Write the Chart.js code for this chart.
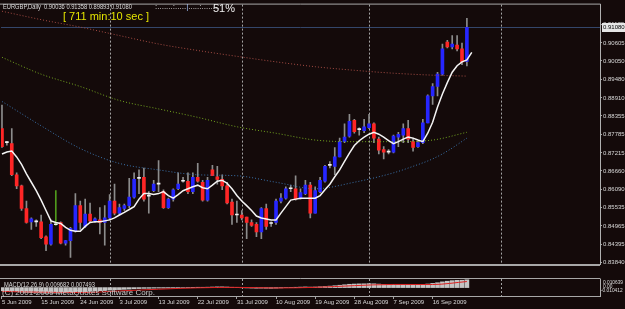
<!DOCTYPE html>
<html>
<head>
<meta charset="utf-8">
<script src="https://cdn.jsdelivr.net/npm/chart.js@4.4.1/dist/chart.umd.min.js"></script>
<style>
    body { margin:0; background:#140a0a; width:625px; height:309px; overflow:hidden; position:relative; font-family:'Liberation Sans',Arial,sans-serif; }
    canvas { position:absolute; left:0; }
    #main_chart { top:0; }
    #macd_chart { top:278px; }
    .txt { position:absolute; white-space:nowrap; color:#dcdcdc; font-size:7px; line-height:1; transform-origin:0 0; }
    .narrow { transform:scaleX(0.82); }
</style>
</head>
<body>
<canvas id="main_chart" width="625" height="279"></canvas>
<canvas id="macd_chart" width="625" height="31"></canvas>

<div class="txt narrow" style="left:3px;top:3px">EURGBP,Daily&nbsp; 0.90036 0.91358 0.89893 0.91080</div>
<div class="txt" style="left:63px;top:11px;font-size:11px;color:#e4e400">[ 711 min:10 sec ]</div>
<div class="txt" style="left:155px;top:3px;font-size:8px;color:#e0e0e0">:.......:.....<span style="color:#a8c8ff">|</span>.....:.......:</div>
<div class="txt" style="left:213px;top:3px;font-size:11px;color:#f0f0f0">51%</div>
<div class="txt narrow" style="left:4px;top:281px">MACD(12,26,9) 0.009682 0.007493</div>
<div class="txt" style="left:2px;top:289px;font-size:8px;color:#c8c8c8">(C) 2001-2009 MetaQuotes Software Corp.</div>
<div class="txt" style="left:603px;top:279px;font-size:6px;transform:scaleX(0.8)">0.010639</div>
<div class="txt" style="left:603px;top:283px;font-size:6px;transform:scaleX(0.8)">0.00</div>
<div class="txt" style="left:601px;top:287px;font-size:6px;transform:scaleX(0.8)">-0.010412</div>

<script>
// EURGBP daily candles, bar 0 = 5 Jun 2009 (Sunday bars included)
const opens = [
    0.8796,0.8753,0.8750,0.8654,0.8620,0.8550,0.8509,0.8509,0.8509,0.8463,
    0.8440,0.8500,0.8507,0.8443,0.8451,0.8480,0.8559,0.8495,0.8533,0.8512,
    0.8515,0.8507,0.8521,0.8573,0.8536,0.8550,0.8559,0.8585,0.8643,0.8646,
    0.8588,0.8605,0.8625,0.8602,0.8553,0.8579,0.8611,0.8634,0.8634,0.8602,
    0.8646,0.8631,0.8576,0.8669,0.8648,0.8640,0.8620,0.8570,0.8530,0.8530,
    0.8524,0.8507,0.8501,0.8478,0.8550,0.8504,0.8507,0.8573,0.8582,0.8611,
    0.8611,0.8582,0.8596,0.8622,0.8536,0.8602,0.8634,0.8683,0.8680,0.8709,
    0.8756,0.8773,0.8822,0.8793,0.8790,0.8799,0.8811,0.8764,0.8732,0.8724,
    0.8724,0.8770,0.8776,0.8796,0.8756,0.8741,0.8753,0.8814,0.8897,0.8926,
    0.8964,0.9063,0.9048,0.9054,0.9042,0.90036
]
const highs = [
    0.8869,0.8757,0.8796,0.8660,0.8622,0.8573,0.8521,0.8515,0.8530,0.8466,
    0.8515,0.8605,0.8509,0.8452,0.8492,0.8596,0.8573,0.8579,0.8567,0.8521,
    0.8553,0.8559,0.8593,0.8625,0.8564,0.8564,0.8643,0.8660,0.8669,0.8675,
    0.8602,0.8637,0.8698,0.8608,0.8582,0.8611,0.8660,0.8646,0.8660,0.8660,
    0.8689,0.8637,0.8646,0.8683,0.8680,0.8654,0.8631,0.8579,0.8573,0.8544,
    0.8524,0.8515,0.8507,0.8553,0.8564,0.8509,0.8579,0.8596,0.8617,0.8622,
    0.8651,0.8611,0.8637,0.8631,0.8617,0.8646,0.8683,0.8695,0.8738,0.8767,
    0.8811,0.8840,0.8825,0.8799,0.8825,0.8840,0.8814,0.8770,0.8741,0.8732,
    0.8776,0.8785,0.8811,0.8822,0.8767,0.8758,0.8825,0.8900,0.8935,0.8970,
    0.9057,0.9068,0.9083,0.9083,0.9060,0.91358
]
const lows = [
    0.8738,0.8745,0.8651,0.8611,0.8544,0.8505,0.8486,0.8495,0.8457,0.8420,
    0.8437,0.8498,0.8441,0.8437,0.8399,0.8477,0.8486,0.8492,0.8507,0.8507,
    0.8472,0.8437,0.8515,0.8530,0.8530,0.8544,0.8553,0.8582,0.8596,0.8573,
    0.8536,0.8602,0.8602,0.8550,0.8550,0.8573,0.8608,0.8631,0.8596,0.8596,
    0.8631,0.8573,0.8573,0.8651,0.8625,0.8608,0.8564,0.8501,0.8507,0.8515,
    0.8457,0.8495,0.8463,0.8457,0.8486,0.8495,0.8501,0.8567,0.8579,0.8602,
    0.8576,0.8579,0.8593,0.8521,0.8536,0.8599,0.8631,0.8675,0.8654,0.8709,
    0.8753,0.8770,0.8782,0.8776,0.8784,0.8796,0.8753,0.8718,0.8703,0.8718,
    0.8721,0.8741,0.8753,0.8753,0.8727,0.8738,0.8750,0.8814,0.8871,0.8897,
    0.8961,0.9045,0.9042,0.9036,0.8993,0.89893
]
const closes = [
    0.8741,0.8753,0.8654,0.8620,0.8550,0.8507,0.8518,0.8509,0.8460,0.8440,
    0.8501,0.8500,0.8443,0.8451,0.8489,0.8559,0.8507,0.8533,0.8512,0.8518,
    0.8507,0.8521,0.8573,0.8536,0.8553,0.8559,0.8585,0.8640,0.8643,0.8579,
    0.8588,0.8625,0.8625,0.8553,0.8579,0.8608,0.8625,0.8634,0.8602,0.8646,
    0.8634,0.8576,0.8637,0.8651,0.8640,0.8620,0.8567,0.8530,0.8530,0.8521,
    0.8507,0.8498,0.8478,0.8550,0.8495,0.8504,0.8573,0.8582,0.8611,0.8611,
    0.8579,0.8599,0.8622,0.8536,0.8605,0.8637,0.8680,0.8683,0.8709,0.8756,
    0.8770,0.8819,0.8787,0.8793,0.8802,0.8811,0.8767,0.8730,0.8724,0.8724,
    0.8773,0.8779,0.8796,0.8764,0.8738,0.8753,0.8814,0.8897,0.8926,0.8964,
    0.9042,0.9048,0.9057,0.9042,0.9002,0.91080
]

// short moving average (white), one value per bar, runs one bar past the last candle
const ma_fast = [
    0.8718,0.8724,0.8727,0.8709,0.8686,0.8657,0.8631,0.8605,0.8576,0.8544,
    0.8512,0.8507,0.8504,0.8492,0.8483,0.8480,0.8480,0.8495,0.8507,0.8509,
    0.8509,0.8512,0.8515,0.8521,0.8530,0.8538,0.8547,0.8556,0.8579,0.8596,
    0.8596,0.8593,0.8596,0.8602,0.8590,0.8582,0.8593,0.8605,0.8611,0.8617,
    0.8622,0.8614,0.8611,0.8622,0.8634,0.8637,0.8628,0.8611,0.8590,0.8573,
    0.8559,0.8544,0.8527,0.8521,0.8518,0.8515,0.8515,0.8536,0.8556,0.8576,
    0.8579,0.8582,0.8582,0.8582,0.8582,0.8590,0.8608,0.8625,0.8648,0.8669,
    0.8695,0.8721,0.8744,0.8759,0.8770,0.8779,0.8785,0.8779,0.8770,0.8759,
    0.8750,0.8756,0.8764,0.8770,0.8767,0.8761,0.8756,0.8782,0.8816,0.8863,
    0.8903,0.8938,0.8970,0.8990,0.9002,0.9008,0.9031
]

// slow averages, read every 8 bars
const ma_slow_idx = [0, 8, 16, 24, 32, 40, 48, 56, 64, 72, 80, 88, 95]
const ma_red = [0.9158,0.9132,0.9109,0.9083,0.9057,0.9037,0.9019,0.9002,0.8987,0.8976,0.8967,0.8961,0.8958]
const ma_green = [0.9016,0.8964,0.8926,0.8883,0.8857,0.8831,0.8802,0.8782,0.8761,0.8756,0.8756,0.8761,0.8785]
const ma_blue_idx = [0, 8, 16, 24, 32, 40, 48, 56, 64, 72, 80, 84, 88, 91, 95]
const ma_blue = [0.8880,0.8805,0.8735,0.8689,0.8669,0.8654,0.8651,0.8631,0.8611,0.8631,0.8660,0.8680,0.8703,0.8727,0.8767]

// MACD(12,26,9)
const macd_main = [
    -0.0040,-0.0044,-0.0048,-0.0052,-0.0056,-0.0060,-0.0063,-0.0065,-0.0067,-0.0069,
    -0.0069,-0.0068,-0.0067,-0.0065,-0.0062,-0.0058,-0.0054,-0.0050,-0.0046,-0.0042,
    -0.0038,-0.0035,-0.0031,-0.0028,-0.0025,-0.0022,-0.0019,-0.0015,-0.0012,-0.0010,
    -0.0009,-0.0007,-0.0006,-0.0006,-0.0005,-0.0004,-0.0002,0.0000,0.0001,0.0003,
    0.0004,0.0004,0.0005,0.0007,0.0009,0.0009,0.0007,0.0004,0.0001,-0.0002,
    -0.0004,-0.0006,-0.0008,-0.0007,-0.0008,-0.0009,-0.0007,-0.0004,-0.0001,0.0002,
    0.0004,0.0006,0.0008,0.0006,0.0007,0.0010,0.0014,0.0018,0.0023,0.0029,
    0.0035,0.0041,0.0044,0.0046,0.0047,0.0049,0.0047,0.0043,0.0039,0.0036,
    0.0036,0.0036,0.0037,0.0036,0.0034,0.0033,0.0036,0.0044,0.0052,0.0060,
    0.0071,0.0079,0.0086,0.0090,0.0091,0.0097
]
const macd_signal = [-0.0048,-0.0057,-0.0062,-0.0042,-0.0020,-0.0003,0.0003,-0.0005,0.0003,0.0024,0.0039,0.0038,0.0075]

const y_ticks = [0.91175,0.90605,0.90050,0.89480,0.88910,0.88355,0.87785,0.87215,0.86660,0.86090,0.85535,0.84965,0.84395,0.83840]
const date_idx = [0, 8, 16, 24, 32, 40, 48, 56, 64, 72, 80, 88]
const date_labels = ['5 Jun 2009','15 Jun 2009','24 Jun 2009','3 Jul 2009','13 Jul 2009','22 Jul 2009',
    '31 Jul 2009','10 Aug 2009','19 Aug 2009','28 Aug 2009','7 Sep 2009','16 Sep 2009']
const grid_idx = [22, 49, 75, 102]
const marked_bar = 11
const last_price = 0.91080

const x_min = -0.2
const x_max = 122.2
const small_font = { family: "'Liberation Sans', Arial, sans-serif", size: 6 }

const candle_color = i => {
    if (Math.abs(closes[i] - opens[i]) < 0.00005) return '#f0f0f0'
    return closes[i] > opens[i] ? '#2626ff' : '#ff2626'
}

const frame_plugin = {
    id: 'frame',
    beforeDatasetsDraw(chart) {
        const {ctx, chartArea: a} = chart
        const x = chart.scales.x
        ctx.save()
        ctx.strokeStyle = '#a4a4a4'
        ctx.lineWidth = 1
        ctx.setLineDash([2, 2])
        grid_idx.forEach(i => {
            const px = Math.round(x.getPixelForValue(i)) + 0.5
            ctx.beginPath()
            ctx.moveTo(px, a.top)
            ctx.lineTo(px, a.bottom)
            ctx.stroke()
        })
        ctx.setLineDash([])
        if (chart.canvas.id == 'main_chart') {
            const py = Math.round(chart.scales.y.getPixelForValue(last_price)) + 0.5
            ctx.strokeStyle = '#34466a'
            ctx.beginPath()
            ctx.moveTo(a.left, py)
            ctx.lineTo(a.right, py)
            ctx.stroke()
        }
        ctx.restore()
    },
    afterDraw(chart) {
        const {ctx, chartArea: a} = chart
        ctx.save()
        ctx.strokeStyle = '#a8a8a8'
        ctx.lineWidth = 1
        ctx.beginPath()
        ctx.moveTo(0, a.top - 0.5)
        ctx.lineTo(a.right + 0.5, a.top - 0.5)
        ctx.stroke()
        if (chart.canvas.id == 'main_chart') {
            ctx.lineWidth = 2
            ctx.beginPath()
            ctx.moveTo(0, a.bottom + 1)
            ctx.lineTo(a.right, a.bottom + 1)
            ctx.stroke()
            const py = Math.round(chart.scales.y.getPixelForValue(last_price))
            ctx.fillStyle = '#e6e6e6'
            ctx.fillRect(a.right + 2, py - 4, 23, 9)
            ctx.fillStyle = '#000'
            ctx.font = "6px 'Liberation Sans', Arial, sans-serif"
            ctx.textBaseline = 'middle'
            ctx.fillText(last_price.toFixed(5), a.right + 3, py + 0.5)
        }
        ctx.restore()
    }
}

const x_scale = display => ({
    type: 'linear',
    min: x_min,
    max: x_max,
    offset: false,
    display: display,
    grid: { offset: false, drawOnChartArea: false, drawTicks: true, tickLength: 3, color: '#a0a0a0' },
    border: { display: true, color: '#a8a8a8' },
    afterBuildTicks: axis => { axis.ticks = date_idx.map(v => ({ value: v })) },
    afterFit: axis => { axis.height = 13 },
    ticks: {
        autoSkip: false,
        maxRotation: 0,
        align: 'start',
        padding: 0,
        color: '#d8d8d8',
        font: small_font,
        callback: v => date_labels[date_idx.indexOf(v)]
    }
})

new Chart(document.getElementById('main_chart'), {
    type: 'bar',
    data: {
        datasets: [
            {
                type: 'line',
                order: 0,
                data: ma_fast.map((v, i) => ({ x: i, y: v })),
                borderColor: '#f4f4f4',
                borderWidth: 1.5,
                pointRadius: 0
            },
            {
                type: 'line',
                order: 1,
                data: ma_slow_idx.map((i, k) => ({ x: i, y: ma_red[k] })),
                borderColor: '#a54c44',
                borderWidth: 1,
                borderDash: [1, 2],
                cubicInterpolationMode: 'monotone',
                pointRadius: 0
            },
            {
                type: 'line',
                order: 1,
                data: ma_slow_idx.map((i, k) => ({ x: i, y: ma_green[k] })),
                borderColor: '#74a620',
                borderWidth: 1,
                borderDash: [1, 2],
                cubicInterpolationMode: 'monotone',
                pointRadius: 0
            },
            {
                type: 'line',
                order: 1,
                data: ma_blue_idx.map((i, k) => ({ x: i, y: ma_blue[k] })),
                borderColor: '#3a72aa',
                borderWidth: 1,
                borderDash: [1, 2],
                cubicInterpolationMode: 'monotone',
                pointRadius: 0
            },
            {
                order: 2,
                data: opens.map((o, i) => ({ x: i, y: [o, closes[i]] })),
                backgroundColor: ctx => candle_color(ctx.dataIndex),
                barThickness: 3,
                minBarLength: 1,
                grouped: false
            },
            {
                order: 3,
                data: lows.map((l, i) => ({ x: i, y: [l, highs[i]] })),
                backgroundColor: ctx => ctx.dataIndex == marked_bar ? '#4f9a1c' : '#8c8c8c',
                barThickness: 1,
                grouped: false
            }
        ]
    },
    options: {
        responsive: false,
        animation: false,
        devicePixelRatio: 1,
        layout: { padding: { top: 1, left: 1, right: 0, bottom: 2 } },
        plugins: { legend: { display: false }, tooltip: { enabled: false } },
        scales: {
            x: x_scale(false),
            y: {
                position: 'right',
                min: 0.83791,
                max: 0.91784,
                afterBuildTicks: axis => { axis.ticks = y_ticks.map(v => ({ value: v })) },
                afterFit: axis => { axis.width = 25 },
                grid: { drawOnChartArea: false, drawTicks: true, tickLength: 2, color: '#a0a0a0' },
                border: { display: true, color: '#b0b0b0' },
                ticks: {
                    autoSkip: false,
                    padding: 1,
                    color: '#d8d8d8',
                    font: small_font,
                    callback: v => Number(v).toFixed(5)
                }
            }
        }
    },
    plugins: [frame_plugin]
})

new Chart(document.getElementById('macd_chart'), {
    type: 'bar',
    data: {
        datasets: [
            {
                type: 'line',
                order: 0,
                data: ma_slow_idx.map((i, k) => ({ x: i, y: macd_signal[k] })),
                borderColor: '#e02020',
                borderWidth: 1,
                cubicInterpolationMode: 'monotone',
                pointRadius: 0
            },
            {
                order: 1,
                data: macd_main.map((v, i) => ({ x: i, y: v })),
                backgroundColor: '#c4c4c4',
                borderWidth: 0,
                barThickness: 4,
                grouped: false
            }
        ]
    },
    options: {
        responsive: false,
        animation: false,
        devicePixelRatio: 1,
        layout: { padding: { top: 1, left: 1, right: 0, bottom: 0 } },
        plugins: { legend: { display: false }, tooltip: { enabled: false } },
        scales: {
            x: x_scale(true),
            y: {
                position: 'right',
                min: -0.010412,
                max: 0.010639,
                afterFit: axis => { axis.width = 25 },
                grid: { display: false },
                border: { display: true, color: '#b0b0b0' },
                ticks: { display: false }
            }
        }
    },
    plugins: [frame_plugin]
})
</script>
</body>
</html>
